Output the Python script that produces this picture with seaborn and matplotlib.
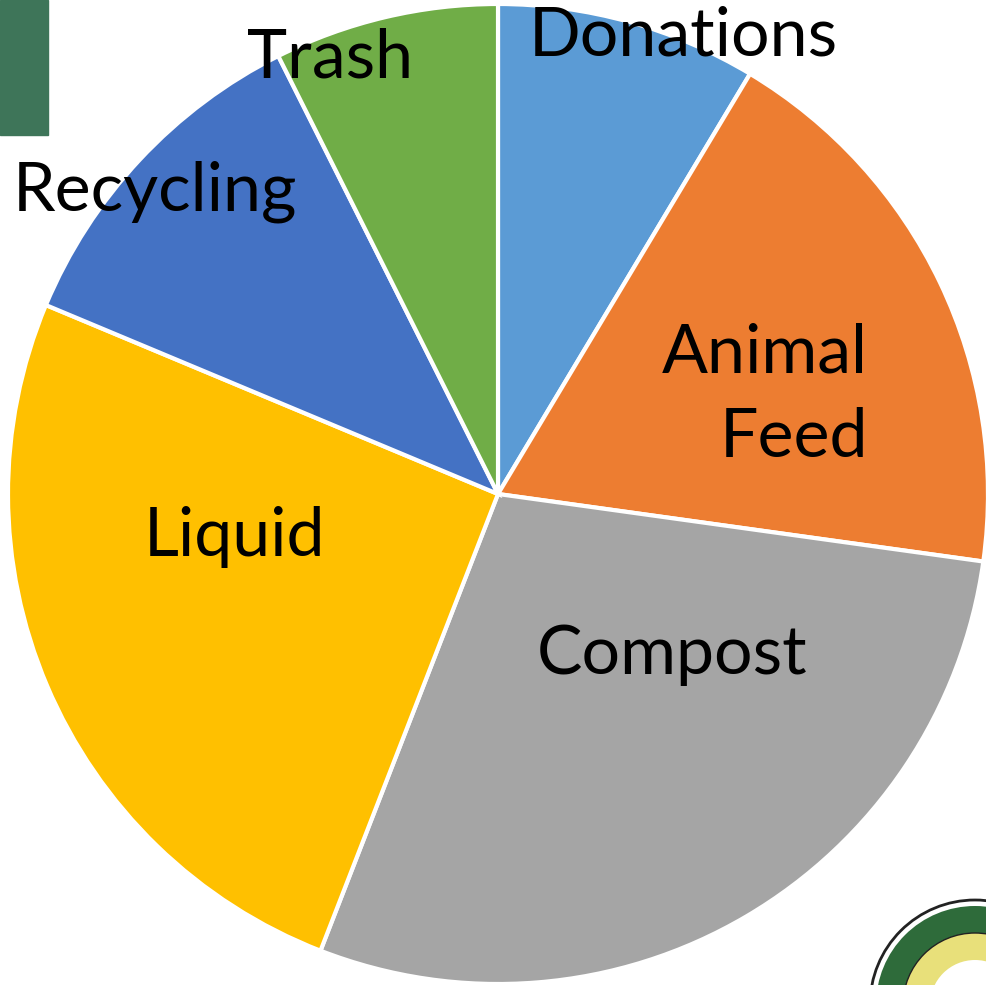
import seaborn as sns
import matplotlib.pyplot as plt
from matplotlib.patches import Rectangle, Circle

# Fatias (sentido horário a partir do topo)
categories = ["Donations", "Animal Feed", "Compost", "Liquid", "Recycling", "Trash"]
shares = [8.6, 18.6, 28.7, 25.4, 11.3, 7.4]  # % estimado da figura
colors = ["#5B9BD5", "#ED7D31", "#A5A5A5", "#FFC000", "#4472C4", "#70AD47"]

# posições dos rótulos (pixels) e alinhamento
label_pos = {
    "Donations": (683, 37, "center"),
    "Animal Feed": (868, 396, "right"),
    "Compost": (672, 655, "center"),
    "Liquid": (235, 537, "center"),
    "Recycling": (155, 192, "center"),
    "Trash": (330, 58, "center"),
}

sns.set_theme(style="white")
plt.rcParams["font.family"] = ["Lato", "DejaVu Sans"]

W, H = 986, 985
fig = plt.figure(figsize=(W / 100, H / 100), dpi=100)
ax = fig.add_axes([0, 0, 1, 1])
ax.set_xlim(0, W)
ax.set_ylim(0, H)
ax.set_aspect("equal")
ax.axis("off")

ax.pie(shares, colors=colors, startangle=90, counterclock=False,
       center=(498, H - 494), radius=490,
       wedgeprops=dict(edgecolor="white", linewidth=3))

for cat in categories:
    x, y, ha = label_pos[cat]
    txt = cat.replace(" ", "\n")
    ax.text(x, H - y, txt, ha=ha, va="center", fontsize=49, color="black",
            linespacing=1.45)

# faixa verde no canto e selo
ax.add_patch(Rectangle((0, H - 135), 48, 135, color="#3E7559", zorder=5))
ax.add_patch(Circle((975, -20), 105, facecolor="white", edgecolor="#222222", lw=2, zorder=5))
ax.add_patch(Circle((975, -20), 99, facecolor="#2E6B3A", edgecolor="none", zorder=6))
ax.add_patch(Circle((975, -20), 72, facecolor="#E8E07A", edgecolor="#222222", lw=1, zorder=7))
ax.add_patch(Circle((975, -20), 45, facecolor="white", edgecolor="none", zorder=8))
ax.set_xlim(0, W)
ax.set_ylim(0, H)

fig.savefig("out.png", dpi=100)
